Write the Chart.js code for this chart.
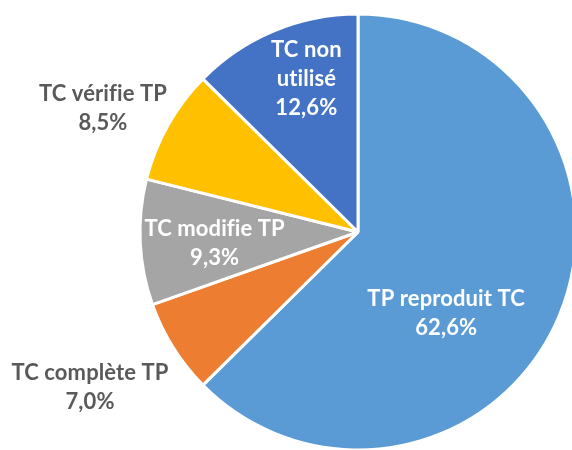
<!DOCTYPE html>
<html lang="fr">
<head>
  <meta charset="UTF-8">
  <title>Usage du TC par le TP</title>
  <script src="https://cdn.jsdelivr.net/npm/chart.js"></script>
  <style>
    html, body {
      margin: 0;
      padding: 0;
      background: #ffffff;
      overflow: hidden;
    }
    #wrap {
      width: 572px;
      height: 450px;
      position: relative;
    }
  </style>
</head>
<body>
  <div id="wrap">
    <canvas id="pie" width="572" height="450"></canvas>
  </div>

  <script>
    // categories, clockwise from the top
    const categories = [
      ['TP reproduit TC'],
      ['TC complète TP'],
      ['TC modifie TP'],
      ['TC vérifie TP'],
      ['TC non', 'utilisé']
    ];
    const shares = [62.6, 7.0, 9.3, 8.5, 12.6];
    const sliceColors = ['#5B9BD5', '#ED7D31', '#A5A5A5', '#FFC000', '#4472C4'];

    // where each label sits: distance as a fraction of the radius, plus a small angle nudge (deg)
    const labelDist = [0.55, 1.42, 0.66, 1.30, 0.74];
    const labelNudge = [20, 2, -2, -3.5, 4];
    const labelInside = [true, false, true, false, true];

    function fmtPct(v) {
      return v.toFixed(1).replace('.', ',') + '%';
    }

    const sliceLabels = {
      id: 'sliceLabels',
      afterDatasetsDraw(chart) {
        const ctx = chart.ctx;
        const meta = chart.getDatasetMeta(0);
        const lineH = 29;
        ctx.save();
        ctx.font = 'bold 22px Lato, "Open Sans", sans-serif';
        // a touch of spacing keeps "fi"/"ti" from turning into ligatures
        ctx.letterSpacing = '0.1px';
        ctx.textAlign = 'center';
        ctx.textBaseline = 'middle';
        meta.data.forEach((arc, i) => {
          const p = arc.getProps(['x', 'y', 'startAngle', 'endAngle', 'outerRadius'], true);
          const mid = (p.startAngle + p.endAngle) / 2 + labelNudge[i] * Math.PI / 180;
          const r = p.outerRadius * labelDist[i];
          const cx = p.x + Math.cos(mid) * r;
          const cy = p.y + Math.sin(mid) * r;
          const lines = categories[i].concat([fmtPct(shares[i])]);
          const top = cy - (lines.length - 1) * lineH / 2;
          ctx.fillStyle = labelInside[i] ? '#ffffff' : '#595959';
          lines.forEach((t, k) => ctx.fillText(t, cx, top + k * lineH));
        });
        ctx.restore();
      }
    };

    new Chart(document.getElementById('pie'), {
      type: 'pie',
      data: {
        labels: categories,
        datasets: [{
          data: shares,
          backgroundColor: sliceColors,
          borderColor: '#ffffff',
          borderWidth: 3
        }]
      },
      options: {
        responsive: false,
        animation: false,
        radius: 218,
        layout: {
          padding: { left: 144, right: 0, top: 14, bottom: 0 }
        },
        plugins: {
          legend: { display: false },
          tooltip: { enabled: false }
        }
      },
      plugins: [sliceLabels]
    });
  </script>
</body>
</html>
